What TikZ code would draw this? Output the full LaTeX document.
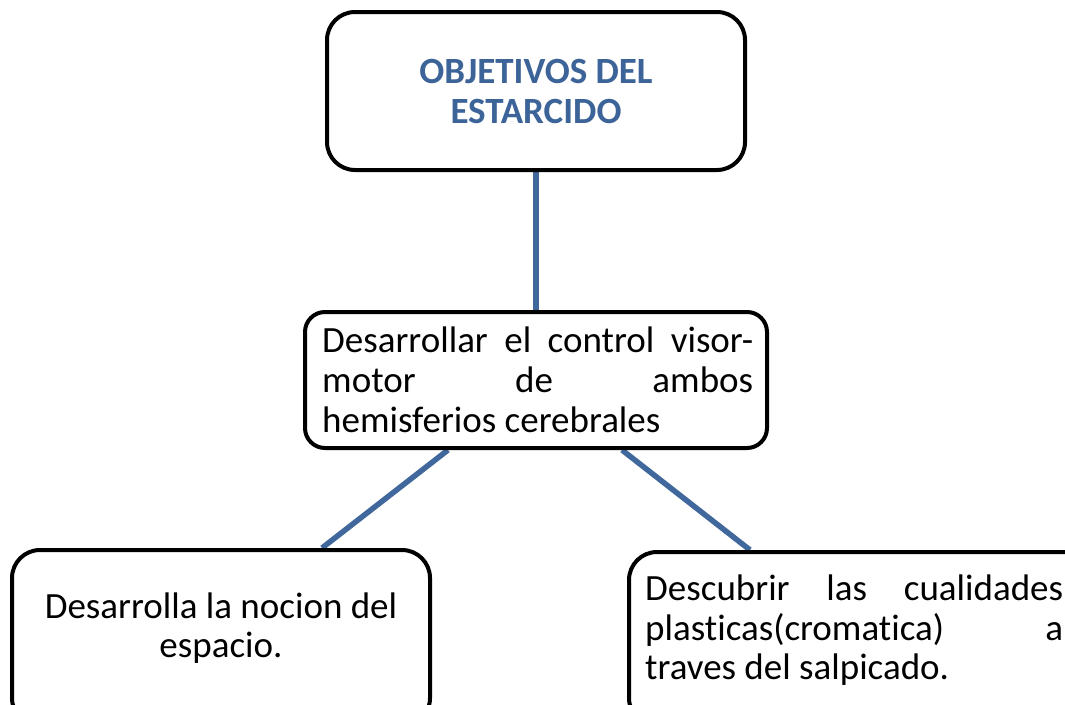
\documentclass[tikz,border=0pt]{standalone}
\usepackage{fontspec}
\setmainfont{Carlito}[Ligatures=NoCommon]
\usetikzlibrary{backgrounds}
\definecolor{linkblue}{HTML}{41689C}
\definecolor{titleblue}{HTML}{3C6498}
\begin{document}
\begin{tikzpicture}[x=1pt,y=-1pt,
  box/.style={draw=black,line width=4pt,rounded corners=28pt,fill=white,inner sep=0pt},
  link/.style={draw=linkblue,line width=5.5pt},
  txt/.style={inner sep=0pt,anchor=base,font=\fontsize{37}{44}\selectfont},
  txtl/.style={txt,anchor=base west},
  ttl/.style={inner sep=0pt,anchor=base,text=titleblue,font=\fontsize{37}{44}\selectfont\bfseries}]
\useasboundingbox (0,0) rectangle (1065,704);
\clip (0,0) rectangle (1065,704);
% boxes
\node[box,minimum width=418pt,minimum height=158pt] (top) at (536,91) {};
\node[box,minimum width=462pt,minimum height=136pt,rounded corners=20pt] (mid) at (536,380) {};
\node[box,minimum width=418pt,minimum height=176pt] (left) at (221,638) {};
\node[box,minimum width=472pt,minimum height=174pt] (right) at (865,639) {};
% connectors
\begin{scope}[on background layer]
\draw[link] (top.south) -- (mid.north);
\draw[link] ([xshift=-88pt]mid.south) -- ([xshift=101pt]left.north);
\draw[link] ([xshift=86pt]mid.south) -- ([xshift=-115pt]right.north);
\end{scope}
% texts
\node[ttl] (t1) at (536,83) {OBJETIVOS DEL};
\node[ttl] (t2) at (536,123) {ESTARCIDO};
\node[txtl] (m1) at (322,352) {\hbox to 431pt{Desarrollar\hfill el\hfill control\hfill visor-}};
\node[txtl] (m2) at (322,392) {\hbox to 431pt{motor\hfill de\hfill ambos}};
\node[txtl] (m3) at (322,432) {hemisferios cerebrales};
\node[txt] (l1) at (221,618) {Desarrolla la nocion del};
\node[txt] (l2) at (221,657) {espacio.};
\node[txtl] (r1) at (645,600) {\hbox to 418pt{Descubrir\hfill las\hfill cualidades}};
\node[txtl] (r2) at (645,640) {\hbox to 418pt{plasticas(cromatica)\hfill a}};
\node[txtl] (r3) at (645,679) {traves del salpicado.};
\end{tikzpicture}
\end{document}
